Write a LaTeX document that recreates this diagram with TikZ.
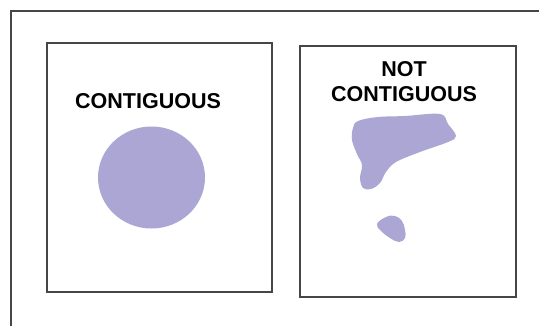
\documentclass[tikz,border=0pt]{standalone}
\usepackage{fontspec}
\setmainfont{Liberation Sans}
\definecolor{blob}{RGB}{172,166,212}
\definecolor{frame}{RGB}{70,70,70}
\begin{document}
\begin{tikzpicture}[x=1pt,y=-1pt,
  box/.style={draw=frame,line width=1.4pt},
  lbl/.style={font=\bfseries\fontsize{21.5}{25}\selectfont,align=center,inner sep=0pt},
  shape/.style={fill=blob,draw=none}]
\useasboundingbox (0,0) rectangle (539,325);
\fill[white] (0,0) rectangle (539,325);
\draw[box] (11,330) -- (11,11) -- (545,11);
\node[box,minimum width=225pt,minimum height=249pt,inner sep=0pt] (left) at (159.5,167.5) {};
\node[box,minimum width=216pt,minimum height=251pt,inner sep=0pt] (right) at (408,171.5) {};
\node[lbl] (t1) at (148,101) {CONTIGUOUS};
\node[lbl] (t2) at (404,81.5) {NOT\\CONTIGUOUS};
\fill[blob] (151.5,177.5) ellipse [x radius=53.5, y radius=51];
\fill[blob] plot[smooth cycle,tension=0.6] coordinates {
 (358,121) (378,117) (405,116) (440,114) (448,124) (456,136) (448,142)
 (420,152) (396,162) (386,172) (380,183) (371,189) (363,188) (360,178)
 (362,165) (357,154) (352,140) (353,128)};
\fill[blob] plot[smooth cycle,tension=0.7] coordinates {
 (386,217) (395,216) (402,221) (405,230) (405,238) (399,242) (390,238)
 (381,231) (377,224)};
\end{tikzpicture}
\end{document}
